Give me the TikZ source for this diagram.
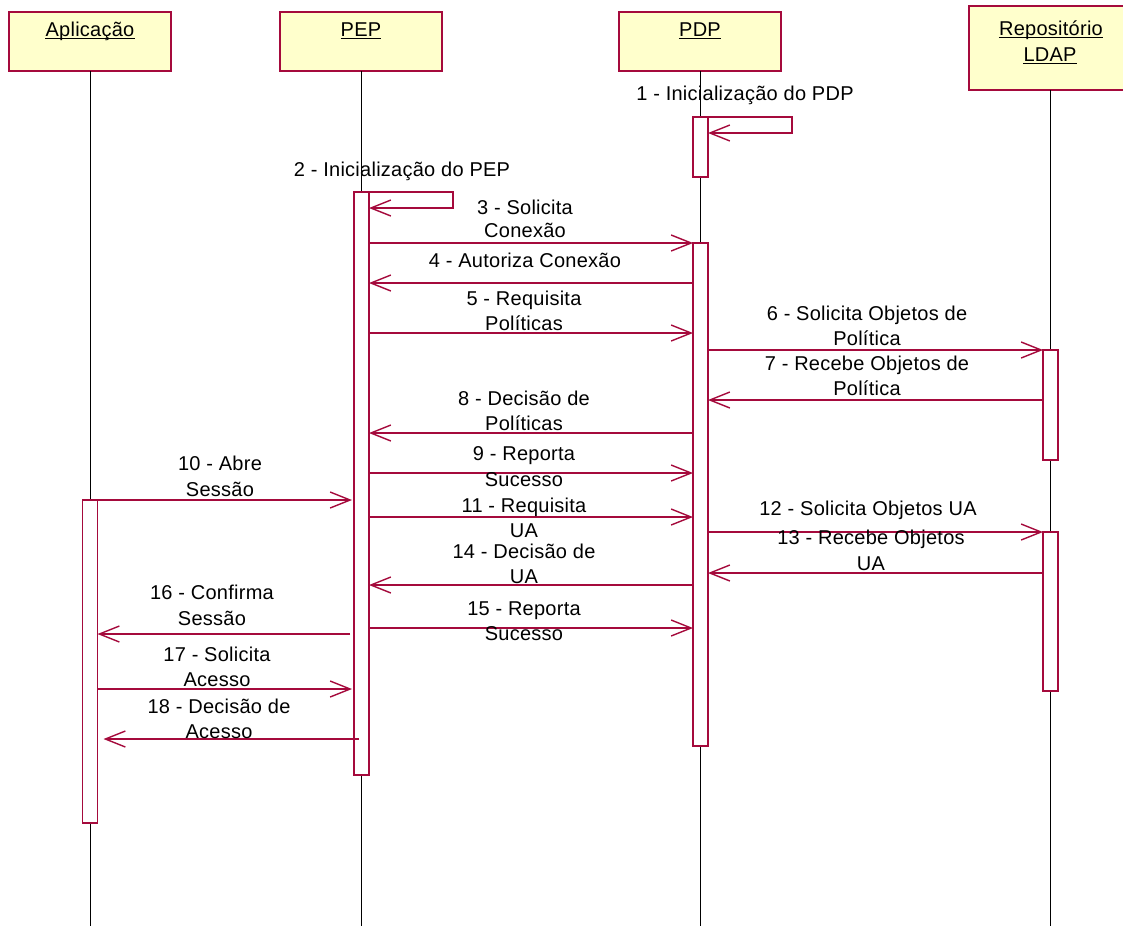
\documentclass[tikz,border=0pt]{standalone}
\usepackage{fontspec}
\setmainfont{Liberation Sans}[LetterSpace=1.3]
\usetikzlibrary{arrows.meta,calc}
\definecolor{umlred}{RGB}{165,10,60}
\definecolor{umlyellow}{RGB}{255,255,204}
\begin{document}
\begin{tikzpicture}[x=1pt,y=-1pt,
  hdr/.style={draw=umlred, fill=umlyellow, line width=1.4pt, minimum width=162pt, inner sep=0pt, outer sep=0pt},
  act/.style={draw=umlred, fill=white, line width=1.4pt, minimum width=15pt, inner sep=0pt, outer sep=0pt},
  msg/.style={draw=umlred, line width=1.4pt, -{Straight Barb[length=20pt,width=16pt]}},
  life/.style={draw=black, line width=1pt},
  lbl/.style={anchor=base, inner sep=0pt, font=\fontsize{20pt}{25pt}\selectfont},
  uline/.style={draw=black, line width=1pt}]
\useasboundingbox[fill=white] (0,0) rectangle (1123,926);

% header boxes
\node[hdr, minimum height=59pt] (app) at (90,41.5) {};
\node[hdr, minimum height=59pt] (pep) at (361,41.5) {};
\node[hdr, minimum height=59pt] (pdp) at (700,41.5) {};
\node[hdr, minimum height=84pt] (rep) at (1050,48) {};

% titles
\node[lbl] (tapp) at (90,36) {Aplicação};
\node[lbl] (tpep) at (361,36) {PEP};
\node[lbl] (tpdp) at (700,36) {PDP};
\node[lbl] (trepa) at (1051,35) {Repositório};
\node[lbl] (trepb) at (1050,61) {LDAP};
\foreach \t in {tapp,tpep,tpdp,trepa,trepb}
  \draw[uline] ([yshift=-2pt]\t.base west) -- ([yshift=-2pt]\t.base east);

% lifelines
\draw[life] (app.south) -- (app.south |- 0,926);
\draw[life] (pep.south) -- (pep.south |- 0,926);
\draw[life] (pdp.south) -- (pdp.south |- 0,926);
\draw[life] (rep.south) -- (rep.south |- 0,926);

% activation boxes
\node[act, minimum height=60pt]  (pdpA) at (700.5,147) {};
\node[act, minimum height=583pt] (pepA) at (361.5,483.5) {};
\node[act, minimum height=503pt] (pdpB) at (700.5,494.5) {};
\node[act, minimum height=110pt] (repA) at (1050.5,405) {};
\node[act, minimum height=159pt] (repB) at (1050.5,611.5) {};
\node[act, minimum height=323pt] (appA) at (90,661.5) {};

% self messages
\draw[msg] (pdpA.north east) -- ++(84,0) -- ++(0,16) -- (pdpA.east |- 0,133);
\draw[msg] (pepA.east |- 0,192) -- ++(84,0) -- ++(0,16) -- (pepA.east |- 0,208);

% messages
\draw[msg] (pepA.east |- 0,243) -- (pdpB.north west);
\draw[msg] (pdpB.west |- 0,283) -- (pepA.east |- 0,283);
\draw[msg] (pepA.east |- 0,333) -- (pdpB.west |- 0,333);
\draw[msg] (pdpB.east |- repA.north west) -- (repA.north west);
\draw[msg] (repA.west |- 0,400) -- (pdpB.east |- 0,400);
\draw[msg] (pdpB.west |- 0,433) -- (pepA.east |- 0,433);
\draw[msg] (pepA.east |- 0,473) -- (pdpB.west |- 0,473);
\draw[msg] (appA.north east) -- ($(pepA.west |- appA.north east)+(-2,0)$);
\draw[msg] (pepA.east |- 0,517) -- (pdpB.west |- 0,517);
\draw[msg] (pdpB.east |- repB.north west) -- (repB.north west);
\draw[msg] (repB.west |- 0,573) -- (pdpB.east |- 0,573);
\draw[msg] (pdpB.west |- 0,585) -- (pepA.east |- 0,585);
\draw[msg] (pepA.east |- 0,628) -- (pdpB.west |- 0,628);
\draw[msg] ($(pepA.west |- 0,634)+(-4,0)$) -- (appA.east |- 0,634);
\draw[msg] (appA.east |- 0,689) -- ($(pepA.west |- 0,689)+(-2,0)$);
\draw[msg] ($(pepA.west |- 0,739)+(5,0)$) -- ($(appA.east |- 0,739)+(6,0)$);

% labels
\node[lbl] (l1)  at (745,100) {1 - Inicialização do PDP};
\node[lbl] (l2)  at (402,176) {2 - Inicialização do PEP};
\node[lbl] (l3a) at (525,214) {3 - Solicita};
\node[lbl] (l3b) at (525,237) {Conexão};
\node[lbl] (l4)  at (525,267) {4 - Autoriza Conexão};
\node[lbl] (l5a) at (524,305) {5 - Requisita};
\node[lbl] (l5b) at (524,330) {Políticas};
\node[lbl] (l6a) at (867,320) {6 - Solicita Objetos de};
\node[lbl] (l6b) at (867,345) {Política};
\node[lbl] (l7a) at (867,370) {7 - Recebe Objetos de};
\node[lbl] (l7b) at (867,395) {Política};
\node[lbl] (l8a) at (524,405) {8 - Decisão de};
\node[lbl] (l8b) at (524,430) {Políticas};
\node[lbl] (l9a) at (524,460) {9 - Reporta};
\node[lbl] (l9b) at (524,486) {Sucesso};
\node[lbl] (l10a) at (220,470) {10 - Abre};
\node[lbl] (l10b) at (220,496) {Sessão};
\node[lbl] (l11a) at (524,512) {11 - Requisita};
\node[lbl] (l11b) at (524,537) {UA};
\node[lbl] (l12)  at (868,515) {12 - Solicita Objetos UA};
\node[lbl] (l13a) at (871,544) {13 - Recebe Objetos};
\node[lbl] (l13b) at (871,570) {UA};
\node[lbl] (l14a) at (524,558) {14 - Decisão de};
\node[lbl] (l14b) at (524,583) {UA};
\node[lbl] (l15a) at (524,615) {15 - Reporta};
\node[lbl] (l15b) at (524,640) {Sucesso};
\node[lbl] (l16a) at (212,599) {16 - Confirma};
\node[lbl] (l16b) at (212,625) {Sessão};
\node[lbl] (l17a) at (217,661) {17 - Solicita};
\node[lbl] (l17b) at (217,686) {Acesso};
\node[lbl] (l18a) at (219,713) {18 - Decisão de};
\node[lbl] (l18b) at (219,738) {Acesso};
\end{tikzpicture}
\end{document}
